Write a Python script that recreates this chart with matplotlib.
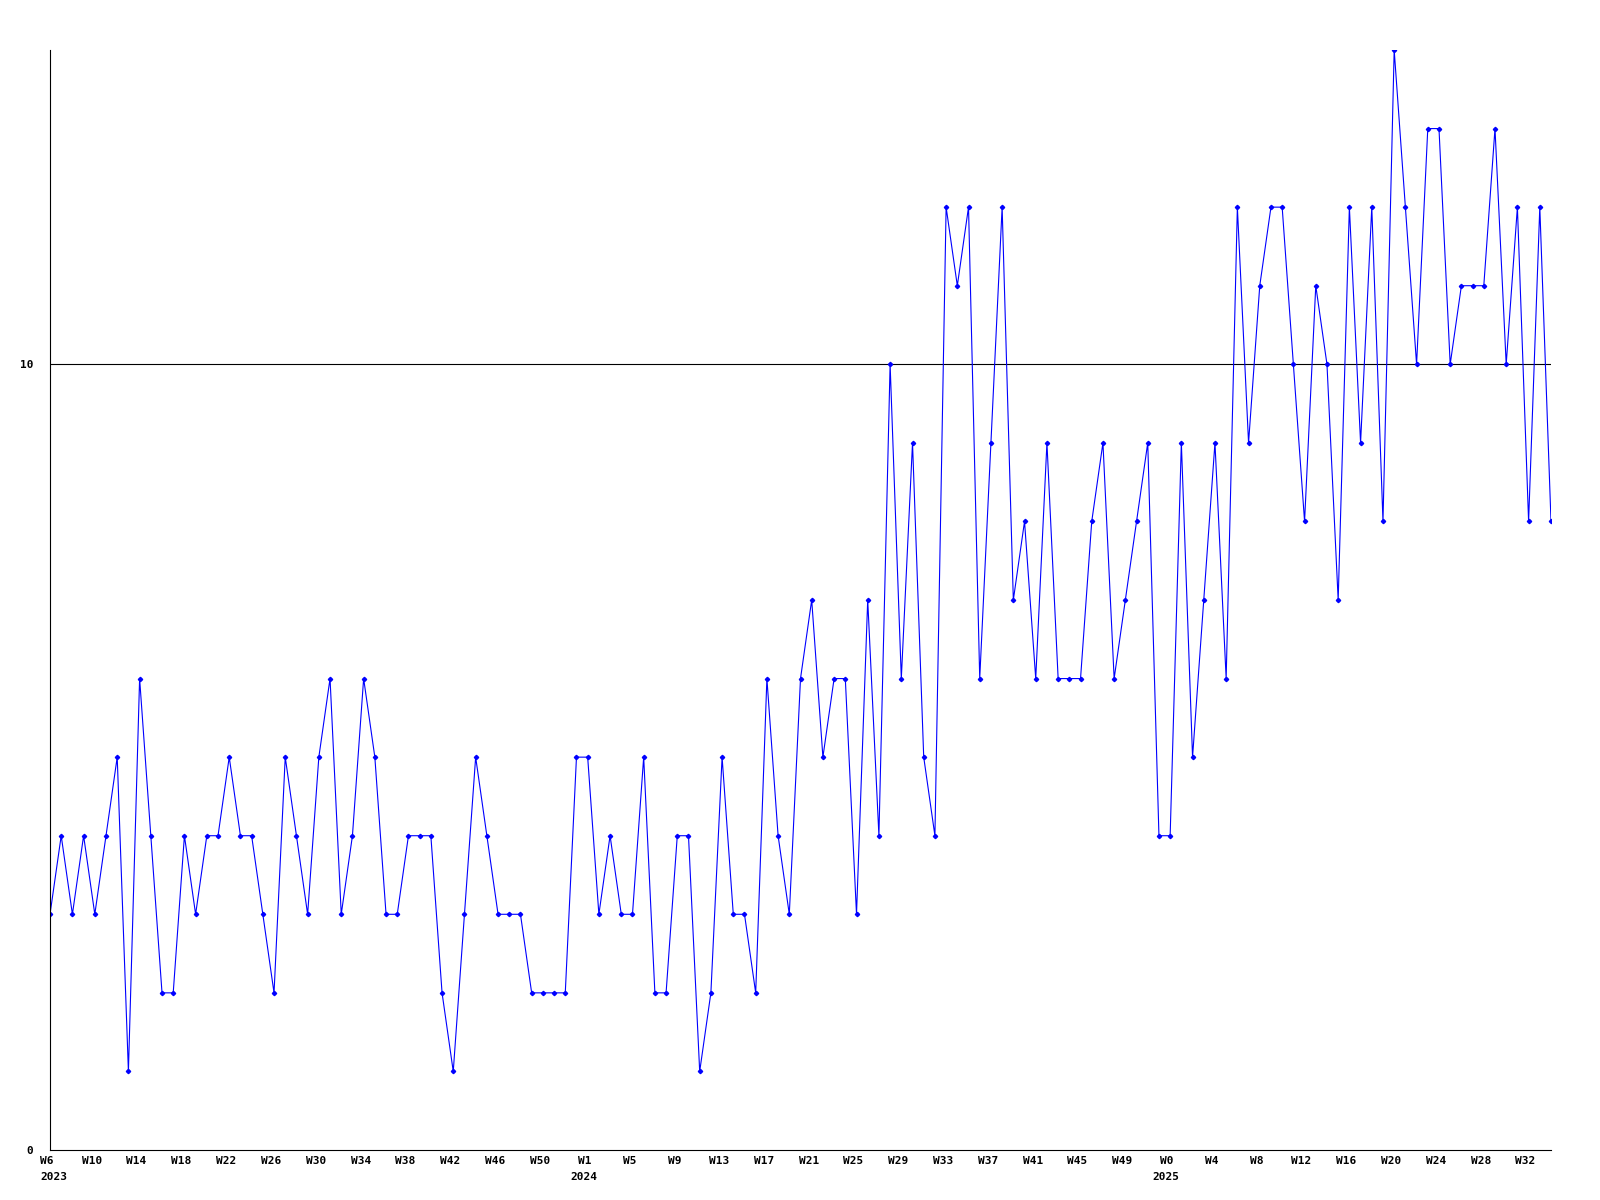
import matplotlib
matplotlib.use('Agg')
import matplotlib.pyplot as plt
import matplotlib.transforms as mtransforms

# weekly values, 2023 W6 .. 2025 W34
values_2023 = [3, 4, 3, 4, 3, 4, 5, 1, 6, 4, 2, 2, 4, 3, 4, 4, 5, 4, 4, 3,
               2, 5, 4, 3, 5, 6, 3, 4, 6, 5, 3, 3, 4, 4, 4, 2, 1, 3, 5, 4,
               3, 3, 3, 2, 2, 2, 2]
values_2024 = [5, 5, 3, 4, 3, 3, 5, 2, 2, 4, 4, 1, 2, 5, 3, 3, 2, 6, 4, 3,
               6, 7, 5, 6, 6, 3, 7, 4, 10, 6, 9, 5, 4, 12, 11, 12, 6, 9, 12, 7,
               8, 6, 9, 6, 6, 6, 8, 9, 6, 7, 8, 9, 4]
values_2025 = [4, 9, 5, 7, 9, 6, 12, 9, 11, 12, 12, 10, 8, 11, 10, 7, 12, 9, 12, 8,
               14, 12, 10, 13, 13, 10, 11, 11, 11, 13, 10, 12, 8, 12, 8]

weeks_2023 = ['W%d' % w for w in range(6, 53)]
weeks_2024 = ['W%d' % w for w in range(0, 53)]
weeks_2025 = ['W%d' % w for w in range(0, 35)]

values = values_2023 + values_2024 + values_2025
weeks = weeks_2023 + weeks_2024 + weeks_2025
years = {0: '2023', len(weeks_2023) + 1: '2024', len(weeks_2023) + len(weeks_2024): '2025'}

font = dict(family='DejaVu Sans Mono', weight='bold', size=8)

fig = plt.figure(figsize=(16, 12), dpi=100)
ax = fig.add_axes([50 / 1600, 50 / 1200, 1501 / 1600, 1100 / 1200])
x = list(range(len(values)))
ax.plot(x, values, color='#0000ff', lw=0.8, marker='D', ms=2.2, mfc='#0000ff', mec='#0000ff')
ax.axhline(10, color='black', lw=0.8, zorder=0)

ax.set_xlim(0, len(values) - 1)
ax.set_ylim(0, 14)
ax.spines['top'].set_visible(False)
ax.spines['right'].set_visible(False)

ticks = x[::4]
ax.set_xticks(ticks)
ax.set_xticklabels([weeks[i] for i in ticks], **font)
ax.set_yticks([0, 10])
ax.set_yticklabels(['0', '10'], **font)
ax.tick_params(axis='x', length=0, pad=4)
ax.tick_params(axis='y', length=0, pad=12)

shift = mtransforms.ScaledTranslation(-3 / 100, 0, fig.dpi_scale_trans)
for lbl in ax.get_xticklabels():
    lbl.set_transform(lbl.get_transform() + shift)

for i, yr in years.items():
    tick = min(t for t in ticks if t >= i)
    if tick == 0:
        ax.annotate(yr, xy=(tick, 0), xycoords=('data', 'axes fraction'),
                    xytext=(-10, -22), textcoords='offset pixels',
                    ha='left', va='top', **font)
    else:
        ax.annotate(yr, xy=(tick, 0), xycoords=('data', 'axes fraction'),
                    xytext=(-4, -22), textcoords='offset pixels',
                    ha='center', va='top', **font)

fig.savefig('out.png', dpi=100)
plt.close(fig)
